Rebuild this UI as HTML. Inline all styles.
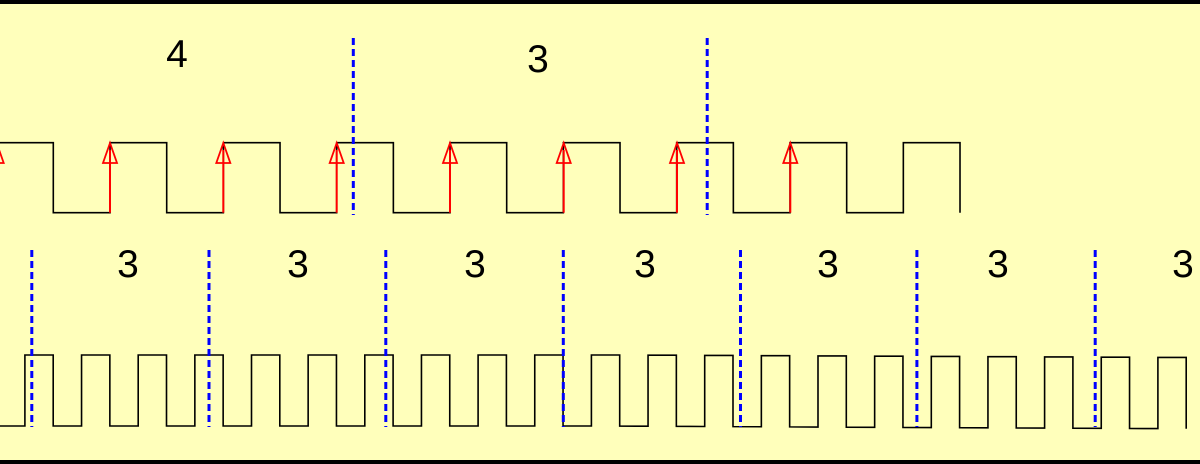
<!DOCTYPE html>
<html><head><meta charset="utf-8"><style>
html,body{margin:0;padding:0;background:#FFFFBB;}
svg{display:block;}
text{font-family:"Liberation Sans",sans-serif;font-size:39px;fill:#000;}
</style></head><body>
<svg id="s" width="1200" height="464" viewBox="0 0 1200 464" xmlns="http://www.w3.org/2000/svg">
<rect x="0" y="0" width="1200" height="464" fill="#FFFFBB"/>
<rect x="0" y="0" width="1200" height="4" fill="#000"/>
<rect x="0" y="460" width="1200" height="4" fill="#000"/>
<text x="177" y="67" text-anchor="middle">4</text>
<text x="538" y="72" text-anchor="middle">3</text>
<text x="128" y="277" text-anchor="middle">3</text>
<text x="298" y="277" text-anchor="middle">3</text>
<text x="475" y="277" text-anchor="middle">3</text>
<text x="645" y="277" text-anchor="middle">3</text>
<text x="828" y="277" text-anchor="middle">3</text>
<text x="998" y="277" text-anchor="middle">3</text>
<text x="1183" y="277" text-anchor="middle">3</text>
<g id="g"></g>
</svg>
<script>
var g=document.getElementById('g'),ns='http://www.w3.org/2000/svg';
function el(n,a){var e=document.createElementNS(ns,n);for(var k in a)e.setAttribute(k,a[k]);g.appendChild(e);return e;}
// top wave
var d='M0 142.7 L53.3 142.7 L53.3 212.7';var P=113.33;
for(var k=1;k<=8;k++){var r=-3.3+P*k;d+=' L'+r+' 212.7 L'+r+' 142.7';var f=r+56.67;if(f<961){d+=' L'+f+' 142.7 L'+f+' 212.7';}else{d+=' L960.6 142.7 L960.6 212.7';break;}}
el('path',{d:d,fill:'none',stroke:'#000','stroke-width':1.6});
// bottom wave
function hy(x){return x<600?355:355+(x-600)/600*2.6;}
function ly(x){return x<600?426:426+(x-600)/600*2.8;}
var b='M0 426';
for(var k=0;k<22;k++){var r=24.9+56.65*k;if(r>1200)break;b+=' L'+r+' '+ly(r)+' L'+r+' '+hy(r);var f=r+28.3;b+=' L'+f+' '+hy(r)+' L'+f+' '+ly(f);}
el('path',{d:b,fill:'none',stroke:'#000','stroke-width':1.6});
// red arrows
[-3.3,110,223.3,336.7,450,563.7,677,790.3].forEach(function(x){
 el('line',{x1:x,y1:212.7,x2:x,y2:150,stroke:'#f00','stroke-width':2});
 el('path',{d:'M'+x+' 143 L'+(x-7)+' 163 L'+(x+7)+' 163 Z',fill:'none',stroke:'#f00','stroke-width':1.8});
});
// blue dashed
[353.3,707.2].forEach(function(x){el('line',{x1:x,y1:38,x2:x,y2:215,stroke:'#00f','stroke-width':3,'stroke-dasharray':'7 4'});});
[31.8,209,385.8,563.3,740.5,916.9,1095.2].forEach(function(x){el('line',{x1:x,y1:250,x2:x,y2:427,stroke:'#00f','stroke-width':3,'stroke-dasharray':'7 4'});});
</script>
</body></html>
